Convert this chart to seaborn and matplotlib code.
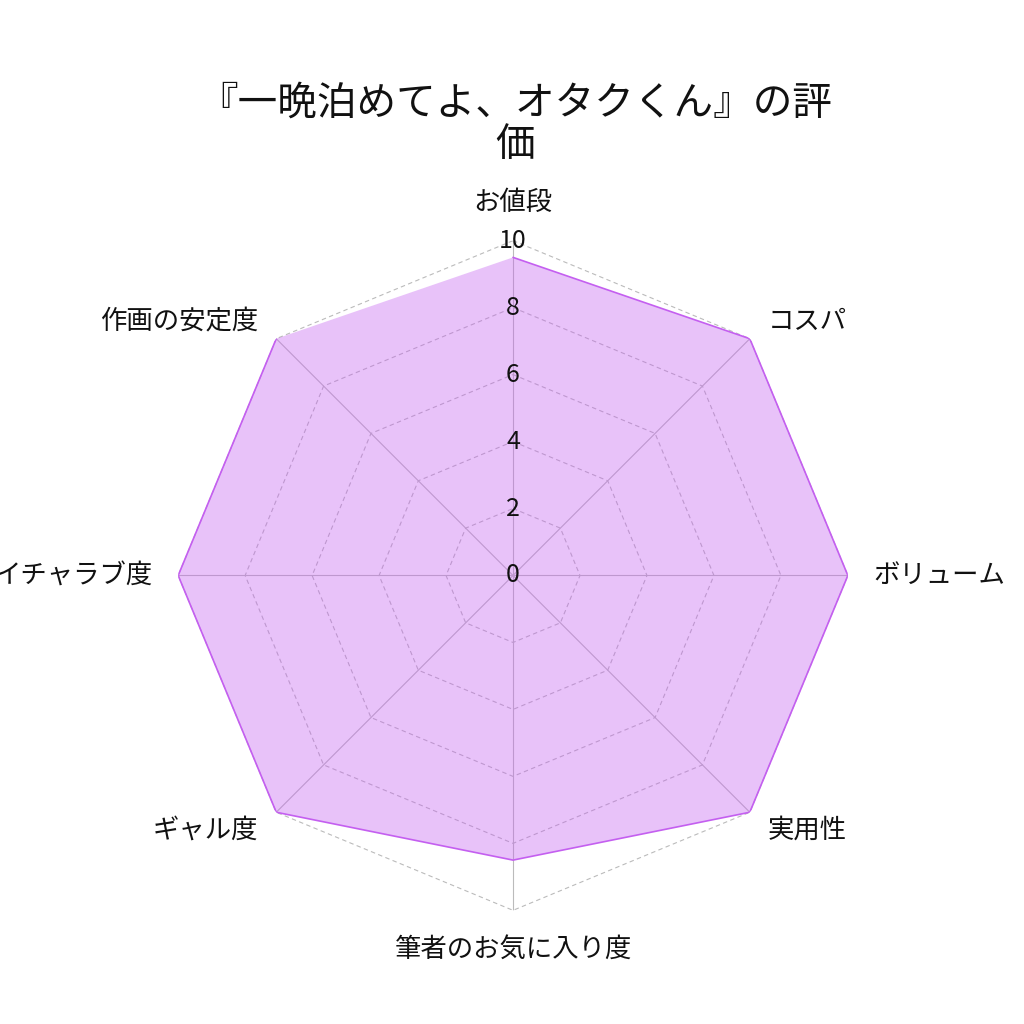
import matplotlib
matplotlib.use("Agg")
import matplotlib.pyplot as plt
import seaborn as sns
import pandas as pd
import numpy as np

# chart data
categories = ["お値段", "コスパ", "ボリューム", "実用性", "筆者のお気に入り度", "ギャル度", "イチャラブ度", "作画の安定度"]
scores = [9.5, 10, 10, 10, 8.5, 10, 10, 10]
ring_levels = [0, 2, 4, 6, 8, 10]
title = "『一晩泊めてよ、オタクくん』の評\n価"

line_color = "#c45ff0"

sns.set_theme(style="white")
plt.rcParams["font.family"] = ["Noto Sans CJK JP", "DejaVu Sans"]

n = len(categories)
angles = np.linspace(0, 2 * np.pi, n, endpoint=False)
df = pd.DataFrame({"angle": np.append(angles, angles[0]),
                   "score": scores + [scores[0]]})

fig = plt.figure(figsize=(10.24, 10.24), dpi=100)
ax = fig.add_axes([0.174, 0.111, 0.654, 0.654], projection="polar")
ax.set_theta_offset(np.pi / 2)
ax.set_theta_direction(-1)
ax.set_ylim(0, 10)

# hide default grid, draw polygon grid instead
ax.grid(False)
ax.spines["polar"].set_visible(False)
ax.set_xticks([])
ax.set_yticks([])

closed = np.append(angles, angles[0])
for lvl in ring_levels[1:]:
    ax.plot(closed, [lvl] * (n + 1), color="#bbbbbb", lw=0.8, ls=(0, (4, 3)), zorder=1)
for a in angles:
    ax.plot([a, a], [0, 10], color="#bbbbbb", lw=0.8, zorder=1)

# data polygon
ax.fill(df["angle"], df["score"], color=line_color, alpha=0.38, lw=0, zorder=2)
sns.lineplot(data=df, x="angle", y="score", sort=False, color=line_color,
             lw=1.2, ax=ax, zorder=3)
ax.set_xlabel("")
ax.set_ylabel("")

# radial tick labels
for lvl in ring_levels:
    ax.text(0, lvl, str(lvl), ha="center", va="center", fontsize=18, color="#111111", zorder=4)

# category labels
r_lab = 10.75
for a, name in zip(angles, categories):
    s = np.sin(a)
    c = np.cos(a)
    if abs(s) < 0.01:
        ha = "center"
        va = "bottom" if c > 0 else "top"
    else:
        ha = "left" if s > 0 else "right"
        va = "center"
    ax.text(a, r_lab, name, ha=ha, va=va, fontsize=19, color="#111111")

fig.text(0.503, 0.879, title, ha="center", va="center", fontsize=28.5,
         linespacing=1.05, color="#111111")

fig.savefig("out.png", dpi=100)
